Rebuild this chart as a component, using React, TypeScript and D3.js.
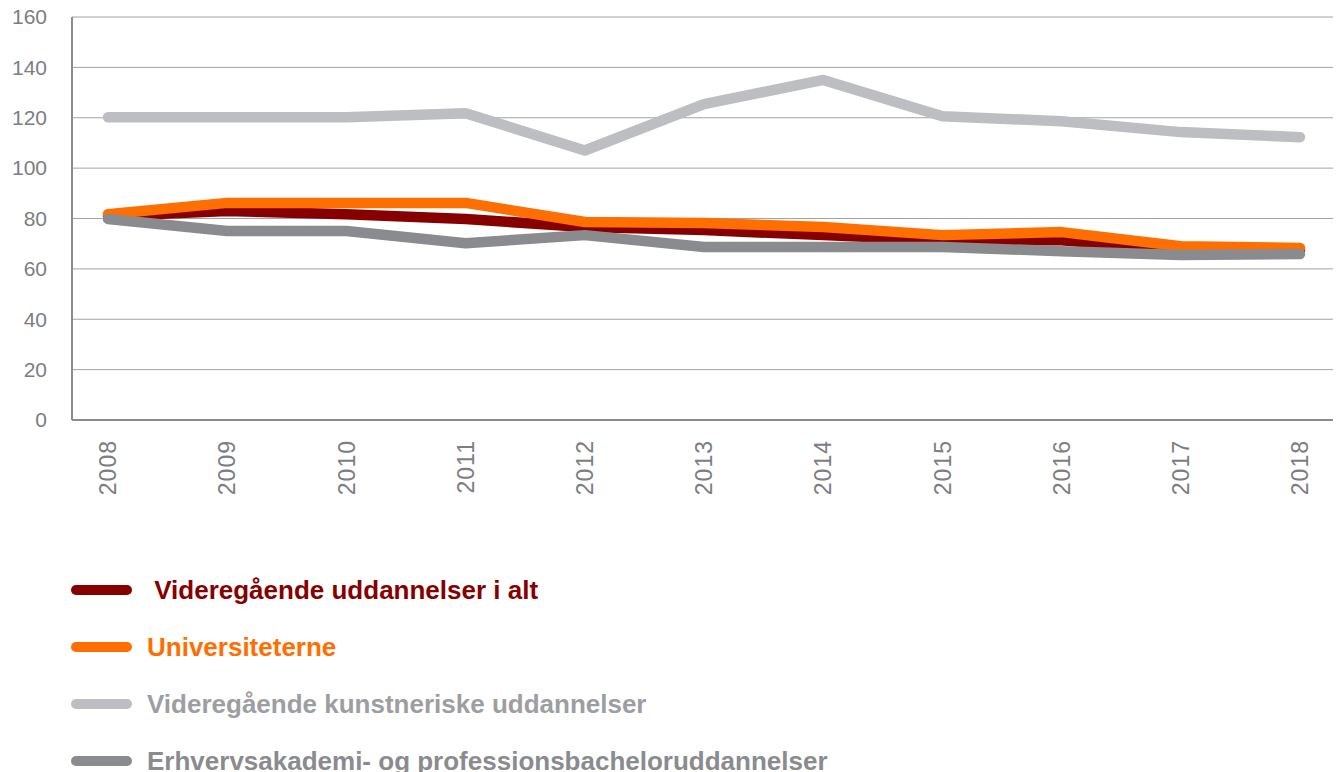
import React, { useRef, useEffect } from "react";
import * as d3 from "d3";

const years = [2008, 2009, 2010, 2011, 2012, 2013, 2014, 2015, 2016, 2017, 2018];
const yTicks = [0, 20, 40, 60, 80, 100, 120, 140, 160];

const seriesNames = [
  " Videregående uddannelser i alt",
  "Universiteterne",
  "Videregående kunstneriske uddannelser",
  "Erhvervsakademi- og professionsbacheloruddannelser",
];

const iAlt = [81, 83, 81.7, 79.8, 76.6, 75.4, 73.4, 71.4, 71.4, 67.5, 67.5];
const universiteterne = [81.7, 86.2, 86.2, 86.2, 78.6, 78.2, 76.6, 73.4, 74.6, 69, 68.3];
const kunstneriske = [120.2, 120.2, 120.2, 121.8, 107, 125.4, 135, 120.6, 118.6, 114.3, 112.3];
const erhverv = [79.8, 75, 75, 70.2, 73.4, 68.7, 68.7, 68.7, 67, 65.5, 65.9];

const lineColors = ["#870000", "#ff6e00", "#bdbec1", "#8a8b8f"];
const textColors = ["#870000", "#ff6e00", "#9d9ea2", "#8a8b8f"];

const App = () => {
  const ref = useRef<SVGSVGElement>(null);

  useEffect(() => {
    const svg = d3.select(ref.current);
    svg.selectAll("*").remove();

    const left = 72, right = 1333, top = 17, bottom = 420;
    const x = d3.scaleLinear().domain([2008, 2018]).range([108, 1300]);
    const y = d3.scaleLinear().domain([0, 160]).range([bottom, top]);

    // grid
    svg.append("g")
      .selectAll("line")
      .data(yTicks.filter(t => t > 0))
      .join("line")
      .attr("x1", left).attr("x2", right)
      .attr("y1", d => y(d)).attr("y2", d => y(d))
      .attr("stroke", "#a3a3a3").attr("stroke-width", 1);

    // axes
    svg.append("line").attr("x1", left).attr("x2", left).attr("y1", top).attr("y2", bottom)
      .attr("stroke", "#8c8c8f").attr("stroke-width", 2);
    svg.append("line").attr("x1", left).attr("x2", right).attr("y1", bottom).attr("y2", bottom)
      .attr("stroke", "#8c8c8f").attr("stroke-width", 2);

    svg.append("g")
      .selectAll("text")
      .data(yTicks)
      .join("text")
      .attr("x", 47).attr("y", d => y(d))
      .attr("dy", "0.35em")
      .attr("text-anchor", "end")
      .attr("font-size", 21)
      .attr("fill", "#7d7d82")
      .text(d => d);

    svg.append("g")
      .selectAll("text")
      .data(years)
      .join("text")
      .attr("transform", d => `translate(${x(d)},440) rotate(-90)`)
      .attr("dy", "0.36em")
      .attr("text-anchor", "end")
      .attr("font-size", 23)
      .attr("letter-spacing", 1)
      .attr("fill", "#7d7d82")
      .text(d => d);

    // lines, drawn so dark gray sits on top
    const data = [kunstneriske, iAlt, universiteterne, erhverv];
    const colorIdx = [2, 0, 1, 3];
    const line = d3.line<number>().x((d, i) => x(years[i])).y(d => y(d));
    data.forEach((s, k) => {
      svg.append("path")
        .attr("d", line(s))
        .attr("fill", "none")
        .attr("stroke", lineColors[colorIdx[k]])
        .attr("stroke-width", 10.5)
        .attr("stroke-linejoin", "round")
        .attr("stroke-linecap", "round");
    });

    // legend
    const lg = svg.append("g").selectAll("g")
      .data(seriesNames)
      .join("g")
      .attr("transform", (d, i) => `translate(0,${590 + i * 57})`);
    lg.append("line")
      .attr("x1", 76).attr("x2", 127)
      .attr("stroke", (d, i) => lineColors[i])
      .attr("stroke-width", 10)
      .attr("stroke-linecap", "round");
    lg.append("text")
      .attr("x", 147).attr("dy", "0.36em")
      .attr("font-size", 26)
      .attr("font-weight", "bold")
      .attr("fill", (d, i) => textColors[i])
      .attr("xml:space", "preserve")
      .style("white-space", "pre")
      .text(d => d);
  }, []);

  return (
    <svg
      ref={ref}
      width={1338}
      height={772}
      style={{ position: "absolute", left: 0, top: 0, fontFamily: "'Liberation Sans', Arial, sans-serif" }}
    />
  );
};

export default App;
